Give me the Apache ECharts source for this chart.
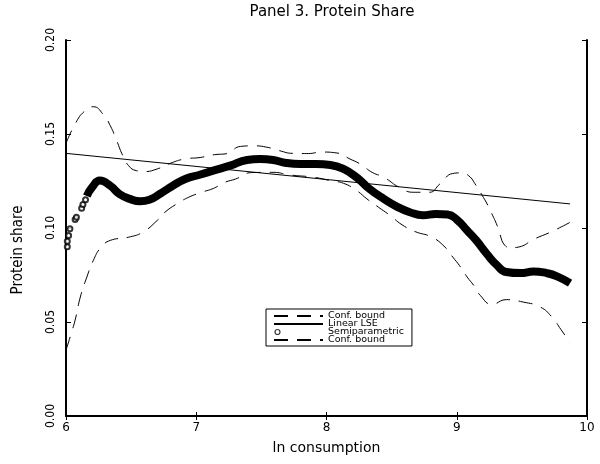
<!DOCTYPE html>
<html lang="en">
<head>
    <meta charset="UTF-8">
    <title>Panel 3. Protein Share</title>
    <script src="https://cdn.jsdelivr.net/npm/echarts@6/dist/echarts.min.js"></script>
    <style>
        body { margin: 0; background: #fff; }
        #chart { width: 600px; height: 464px; }
    </style>
</head>
<body>
    <div id="chart"></div>
<script>
    // values: [ln consumption, protein share]
    var upperBound = [
        [6.00, 0.145], [6.07, 0.1553], [6.14, 0.162], [6.21, 0.1645], [6.29, 0.160],
        [6.34, 0.1544], [6.39, 0.1464], [6.43, 0.1394], [6.48, 0.1332], [6.54, 0.1305],
        [6.60, 0.1300], [6.70, 0.1314], [6.80, 0.1344], [6.91, 0.1367], [7.03, 0.1375],
        [7.14, 0.139], [7.23, 0.1395], [7.34, 0.1434], [7.44, 0.1437], [7.54, 0.143],
        [7.64, 0.1411], [7.74, 0.1397], [7.86, 0.1396], [7.96, 0.1404], [8.08, 0.1399],
        [8.18, 0.1367], [8.26, 0.134], [8.35, 0.1296], [8.44, 0.127], [8.56, 0.1216],
        [8.67, 0.119], [8.79, 0.119], [8.87, 0.1234], [8.97, 0.129], [9.03, 0.1293],
        [9.09, 0.1279], [9.15, 0.1225], [9.19, 0.118], [9.24, 0.1119], [9.27, 0.1075],
        [9.31, 0.1013], [9.33, 0.0969], [9.37, 0.0907], [9.42, 0.0895], [9.47, 0.0898],
        [9.60, 0.0943], [9.72, 0.0978], [9.87, 0.103]
    ];
    var lowerBound = [
        [6.00, 0.035], [6.04, 0.0439], [6.07, 0.051], [6.11, 0.0633], [6.16, 0.0739],
        [6.21, 0.0828], [6.27, 0.0898], [6.34, 0.0934], [6.48, 0.0951], [6.59, 0.0978],
        [6.70, 0.104], [6.76, 0.1084], [6.85, 0.1128], [6.94, 0.1163], [7.04, 0.119],
        [7.13, 0.121], [7.22, 0.1243], [7.30, 0.126], [7.43, 0.1295], [7.59, 0.1296],
        [7.72, 0.1282], [7.90, 0.127], [8.03, 0.1252], [8.13, 0.1238], [8.23, 0.120],
        [8.31, 0.1155], [8.40, 0.111], [8.49, 0.1066], [8.58, 0.1017], [8.68, 0.0981],
        [8.81, 0.0951], [8.91, 0.0898], [8.97, 0.0845], [9.02, 0.0801], [9.08, 0.0739],
        [9.13, 0.0695], [9.18, 0.0642], [9.27, 0.0594], [9.38, 0.0619], [9.51, 0.0606],
        [9.64, 0.058], [9.73, 0.0527], [9.80, 0.046], [9.87, 0.039]
    ];
    var linearLSE = [[6.00, 0.1397], [9.87, 0.1128]];
    // sparse circles at the low end of the semiparametric fit
    var semiSparse = [
        [6.01, 0.090], [6.01, 0.093], [6.02, 0.096], [6.03, 0.0996], [6.07, 0.1045],
        [6.08, 0.1057], [6.12, 0.1105], [6.13, 0.1125], [6.15, 0.115]
    ];
    // dense part, drawn as one thick band
    var semiDense = [
        [6.16, 0.117], [6.20, 0.1216], [6.26, 0.1252], [6.34, 0.1225], [6.41, 0.1181],
        [6.49, 0.1155], [6.57, 0.1142], [6.64, 0.115], [6.72, 0.1181], [6.82, 0.1225],
        [6.92, 0.1262], [7.02, 0.1282], [7.13, 0.1305], [7.26, 0.1332], [7.39, 0.1362],
        [7.49, 0.1367], [7.59, 0.1362], [7.69, 0.1346], [7.80, 0.134], [7.92, 0.134],
        [8.03, 0.1335], [8.13, 0.1314], [8.23, 0.127], [8.33, 0.1208], [8.44, 0.1155],
        [8.54, 0.1114], [8.64, 0.1084], [8.74, 0.1068], [8.84, 0.1075], [8.93, 0.1072],
        [9.00, 0.1045], [9.08, 0.0987], [9.15, 0.0934], [9.23, 0.0863], [9.31, 0.0801],
        [9.38, 0.0766], [9.49, 0.076], [9.59, 0.0769], [9.69, 0.076], [9.77, 0.0743],
        [9.87, 0.0707]
    ];

    var dash = [14, 9];
    var ink = '#000';
    var noDot = { opacity: 0 };
    // small hollow circle at the left end of the legend key
    var ringIcon = 'path://M1,3.5a2.5,2.5 0 1,0 5,0a2.5,2.5 0 1,0 -5,0zM0,0M49,7';

    var my = echarts.init(document.getElementById('chart'));

    var frameX = {
        type: 'value', min: 6, max: 10, interval: 1,
        axisLine: { lineStyle: { color: ink, width: 2 } },
        axisTick: { inside: true, length: 4, lineStyle: { color: ink, width: 1 } },
        splitLine: { show: false }
    };
    var frameY = {
        type: 'value', min: 0, max: 0.2, interval: 0.05,
        axisLine: { show: true, lineStyle: { color: ink, width: 2 } },
        axisTick: { show: true, inside: true, length: 5, lineStyle: { color: ink, width: 1 } },
        splitLine: { show: false }
    };

    var option = {
        animation: false,
        backgroundColor: '#fff',
        title: {
            text: 'Panel 3. Protein Share',
            left: 327, top: 0, textAlign: 'center',
            textStyle: { fontFamily: 'DejaVu Sans', fontSize: 15, fontWeight: 'normal', color: ink }
        },
        grid: { left: 66, right: 13, top: 40, bottom: 48 },
        legend: {
            left: 266, top: 309,
            orient: 'vertical',
            selectedMode: false,
            borderColor: ink, borderWidth: 1,
            padding: [2, 8, 1, 7],
            itemWidth: 49, itemHeight: 7, itemGap: -2,
            textStyle: { fontFamily: 'DejaVu Sans', fontSize: 9.5, color: ink },
            data: [
                { name: 'Conf. bound', itemStyle: noDot, lineStyle: { type: dash } },
                { name: 'Linear LSE', itemStyle: noDot },
                {
                    name: 'Semiparametric', icon: ringIcon,
                    itemStyle: { color: '#fff', borderColor: ink, borderWidth: 1.2 }
                },
                { name: 'Conf. bound ', itemStyle: noDot, lineStyle: { type: dash } }
            ]
        },
        xAxis: [
            Object.assign({}, frameX, {
                position: 'bottom',
                name: 'ln consumption', nameLocation: 'middle', nameGap: 25,
                nameTextStyle: { fontFamily: 'DejaVu Sans', fontSize: 14, color: ink },
                axisLabel: { color: ink, fontFamily: 'DejaVu Sans', fontSize: 12, margin: 6 }
            }),
            Object.assign({}, frameX, { position: 'top', axisLabel: { show: false } })
        ],
        yAxis: [
            Object.assign({}, frameY, {
                position: 'left',
                name: 'Protein share', nameLocation: 'middle', nameGap: 40,
                nameTextStyle: {
                    fontFamily: 'DejaVu Sans Condensed', fontSize: 15, color: ink,
                    padding: [0, 44, 0, 0]
                },
                axisLabel: {
                    color: ink, fontFamily: 'DejaVu Sans Condensed', fontSize: 12,
                    rotate: 90, margin: 9,
                    formatter: function (v) { return v.toFixed(2); }
                }
            }),
            Object.assign({}, frameY, { position: 'right', axisLabel: { show: false } })
        ],
        series: [
            {
                name: 'Conf. bound', type: 'line', data: upperBound,
                smooth: true, symbol: 'none',
                lineStyle: { color: ink, width: 1, type: dash },
                itemStyle: { color: ink }
            },
            {
                name: 'Linear LSE', type: 'line', data: linearLSE,
                symbol: 'none',
                lineStyle: { color: ink, width: 1 },
                itemStyle: { color: ink }
            },
            {
                name: 'Semiparametric', type: 'scatter', data: semiSparse,
                symbol: 'emptyCircle', symbolSize: 5,
                itemStyle: { color: ink, borderColor: ink, borderWidth: 1 }
            },
            {
                name: 'Semiparametric', type: 'line', data: semiDense,
                smooth: true, symbol: 'none',
                lineStyle: { color: ink, width: 8 },
                itemStyle: { color: ink }
            },
            {
                name: 'Conf. bound ', type: 'line', data: lowerBound,
                smooth: true, symbol: 'none',
                lineStyle: { color: ink, width: 1, type: dash },
                itemStyle: { color: ink }
            }
        ]
    };

    my.setOption(option);
</script>
</body>
</html>
